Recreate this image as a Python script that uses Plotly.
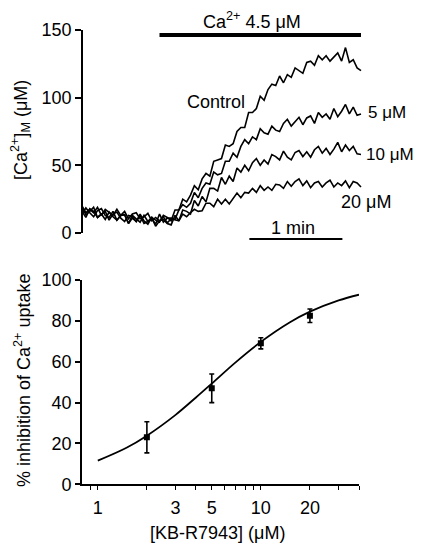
import numpy as np
import plotly.graph_objects as go

# ---------------- data ----------------
time_s = np.arange(0, 180.1, 2.5)  # sampling times (s)

control = [19, 13.5, 16, 19, 11.5, 14, 16, 9.5, 14, 15.5, 11, 8.5, 13, 12, 8.5, 14, 9, 6.5,
           11.5, 9.5, 8, 13, 11.5, 9, 17, 17, 25, 23, 28, 35, 32, 40, 44, 42, 53, 54, 55,
           65, 64, 66, 75, 78, 78, 89, 89, 92, 101, 98, 106, 110, 109, 116, 111, 117, 115,
           122, 120, 118, 126, 127, 124, 131, 128, 131, 127, 130, 133, 127, 137, 126, 128,
           122, 120]
kb5 = [14, 18.5, 15, 12, 16.5, 18, 13, 11.5, 16, 9.5, 13, 13.5, 7, 13, 10.5, 8, 13, 8.5,
       10.5, 6.5, 14, 8, 11, 11, 10, 17, 21, 19, 22, 30, 26, 33, 37, 36, 45, 43, 44, 53,
       53, 59, 56, 64, 69, 66, 71, 69, 77, 74, 73, 79, 76, 75, 81, 84, 79, 82, 85.5, 80,
       85, 86.5, 81, 89, 85.5, 88, 84, 92, 86, 90, 95, 88, 93, 87, 88]
kb10 = [16, 11.5, 18, 16, 11.5, 14, 10, 15.5, 12, 9.5, 13, 13.5, 7, 11, 8.5, 13, 7, 8.5,
        11.5, 5, 9, 10, 7, 6, 13, 9, 17, 16, 14, 24, 20, 27, 23, 33, 33, 31, 41, 36, 42,
        38, 48, 45, 50, 46, 52, 55, 50, 54, 51, 58, 56.5, 54, 60.5, 56, 54, 59.5, 61,
        56.5, 60, 56, 61.5, 64, 59, 62.5, 58, 62, 67, 60, 65, 61, 64, 58.5, 58]
kb20 = [20, 15, 17.5, 15, 19, 13, 17.5, 15, 13, 17.5, 13, 16, 10.5, 14, 15, 10.5, 12,
        14.5, 9, 11.5, 9, 12, 7.5, 10.5, 10, 9, 14, 12, 15, 17.5, 16, 16.5, 22, 22, 19.5,
        25, 21.5, 25, 21.5, 26, 29.5, 26, 30, 29.5, 33, 30, 35, 31.5, 34, 31.5, 36, 35.5,
        33, 38, 34.5, 38, 40, 35, 38.5, 33.5, 37, 38, 34, 37, 39, 34, 37, 35, 38.5, 33.5,
        38, 37, 34]

ca_bar_s = [50, 180]       # Ca2+ application period (s)
scale_bar_s = [108, 168]   # 1 min scale bar (s)

conc = [2, 5, 10, 20]
inhibition = [23, 47, 69, 82.5]
inhibition_err = [7.6, 7.0, 2.7, 3.3]

fit_x = [1, 1.5, 2, 3, 4, 5, 7, 10, 15, 20, 30, 40]
fit_y = [11.6, 17.9, 23.8, 34.0, 42.5, 49.3, 59.7, 69.7, 79.2, 84.5, 90.0, 92.8]

x_tickvals = [0.9, 1, 2, 3, 4, 5, 6, 7, 8, 9, 10, 20, 30, 40]
x_ticktext = ["", "1", "", "3", "", "5", "", "", "", "", "10", "20", "", ""]

# ---------------- figure ----------------
W, H = 422, 545
OFF = 8  # page offset of the rendered figure
FONT = "Liberation Sans, Arial, Helvetica, sans-serif"
FS = 18


def px(x):
    return (x - OFF) / W


def py(y):
    return 1 - (y - OFF) / H


fig = go.Figure()
for tr in [control, kb5, kb10, kb20]:
    fig.add_trace(go.Scatter(x=time_s, y=tr, mode="lines",
                             line=dict(color="black", width=1.6),
                             xaxis="x", yaxis="y", showlegend=False))

fig.add_trace(go.Scatter(x=fit_x, y=fit_y, mode="lines", line_shape="spline",
                         line=dict(color="black", width=1.8),
                         xaxis="x2", yaxis="y2", showlegend=False))
fig.add_trace(go.Scatter(x=conc, y=inhibition, mode="markers",
                         marker=dict(color="black", size=6, symbol="square"),
                         error_y=dict(type="data", array=inhibition_err, color="black",
                                      thickness=1.6, width=2.5),
                         xaxis="x2", yaxis="y2", showlegend=False))

axis_common = dict(showgrid=False, zeroline=False, color="black", automargin=False,
                   tickfont=dict(family=FONT, size=FS, color="black"))

fig.update_layout(
    template="none",
    width=W, height=H,
    margin=dict(l=0, r=0, t=0, b=0, pad=0, autoexpand=False),
    paper_bgcolor="white", plot_bgcolor="white",
    xaxis=dict(domain=[px(82), px(363)], range=[0, 181.3], visible=False,
               anchor="y", automargin=False),
    yaxis=dict(domain=[py(233), py(30)], range=[0, 150], anchor="free", position=px(82),
               tickvals=[0, 50, 100, 150], ticks="outside", ticklen=6, tickwidth=1.6,
               showline=True, linewidth=1.6, linecolor="black", **axis_common),
    xaxis2=dict(domain=[px(82), px(359)], type="log",
                range=[np.log10(0.8), np.log10(40)], anchor="y2",
                tickvals=x_tickvals, ticktext=x_ticktext, ticks="outside",
                ticklen=4, tickwidth=1.4, showline=True, linewidth=1.6,
                linecolor="black", ticklabelstandoff=2, **axis_common),
    yaxis2=dict(domain=[py(484.3), py(280)], range=[0, 100], anchor="x2",
                tickvals=[0, 20, 40, 60, 80, 100], ticks="outside", ticklen=5,
                tickwidth=1.6, showline=True, linewidth=1.6, linecolor="black",
                **axis_common),
)

# Ca bar and scale bar
fig.add_shape(type="line", xref="x", yref="paper", x0=ca_bar_s[0], x1=ca_bar_s[1],
              y0=py(35), y1=py(35), line=dict(color="black", width=4))
fig.add_shape(type="line", xref="x", yref="paper", x0=scale_bar_s[0], x1=scale_bar_s[1],
              y0=py(239), y1=py(239), line=dict(color="black", width=2))


def ann(text, x, y, xanchor="center", angle=0, size=FS):
    fig.add_annotation(text=text, x=px(x), y=py(y), xref="paper", yref="paper",
                       xanchor=xanchor, yanchor="middle", showarrow=False,
                       textangle=angle,
                       font=dict(family=FONT, size=size, color="black"))


ann("Ca<sup>2+</sup> 4.5 μM", 252, 21)
ann("1 min", 293, 228)
ann("Control", 216, 102)
ann("5 μM", 366, 112, "left", size=17)
ann("10 μM", 364, 154, "left", size=17)
ann("20 μM", 339, 202, "left")
ann("[Ca<sup>2+</sup>]<sub>M</sub> (μM)", 20, 130, angle=-90)
ann("% inhibition of Ca<sup>2+</sup> uptake", 22, 380, angle=-90)
ann("[KB-R7943] (μM)", 217, 533)

fig.write_html("out.html")
